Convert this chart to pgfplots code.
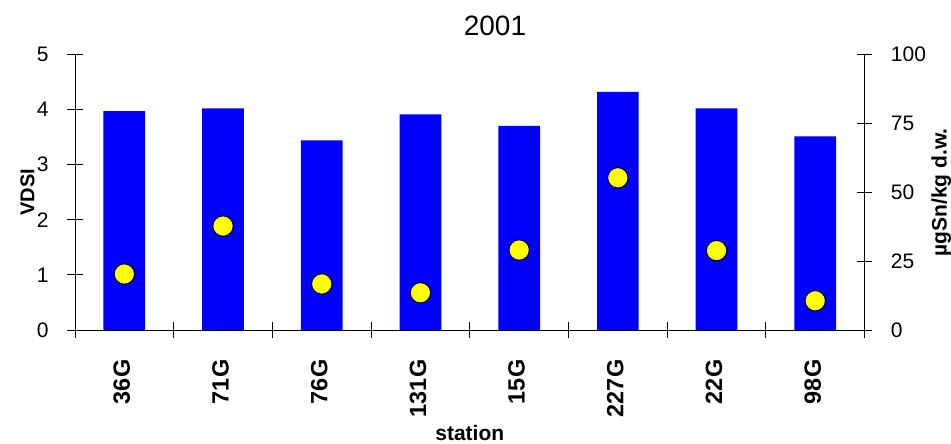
\documentclass[border=0pt]{standalone}
\usepackage{fontspec}
\setmainfont{Liberation Sans}
\usepackage{pgfplots}
\pgfplotsset{compat=1.18}
\definecolor{barblue}{RGB}{0,0,255}
\definecolor{ptyellow}{RGB}{255,255,0}
\definecolor{ptedge}{RGB}{0,0,90}
\begin{document}
\begin{tikzpicture}
\useasboundingbox (-75bp,-114bp) rectangle (876bp,330bp);
\begin{axis}[
  at={(0,0)}, anchor=south west,
  scale only axis, width=789.6bp, height=275.7bp,
  xmin=0.5, xmax=8.5, ymin=0, ymax=5,
  axis x line=bottom, axis y line=left,
  axis line style={-, line width=1bp, black},
  ytick={0,1,2,3,4,5},
  xtick={0.5,1.5,2.5,3.5,4.5,5.5,6.5,7.5,8.5},
  x tick label as interval,
  xticklabels={36G,71G,76G,131G,15G,227G,22G,98G},
  tick align=center, major tick length=15.5bp,
  tick style={line width=1bp, black},
  /pgf/number format/assume math mode=true,
  yticklabel style={font=\fontsize{21bp}{24bp}\selectfont, anchor=east, inner sep=0pt, xshift=-18.5bp},
  xticklabel style={font=\bfseries\fontsize{23.5bp}{26bp}\selectfont, rotate=90, anchor=east, inner sep=0pt, xshift=-21.7bp, yshift=2.5bp},
]
\addplot[ybar, bar width=41.7bp, fill=barblue, draw=none] coordinates {
(1,3.97) (2,4.02) (3,3.44) (4,3.91) (5,3.70) (6,4.32) (7,4.02) (8,3.51)
};
\end{axis}
\begin{axis}[
  at={(0,0)}, anchor=south west,
  scale only axis, width=789.6bp, height=275.7bp,
  xmin=0.5, xmax=8.5, ymin=0, ymax=100,
  axis x line=none, axis y line=right,
  axis line style={-, line width=1bp, black},
  ytick={0,25,50,75,100},
  tick align=center, major tick length=15.5bp,
  tick style={line width=1bp, black},
  /pgf/number format/assume math mode=true,
  yticklabel style={font=\fontsize{21bp}{24bp}\selectfont, anchor=west, inner sep=0pt, xshift=18.4bp},
]
\addplot[only marks, mark=*, mark size=10.3bp, mark options={fill=ptyellow, draw=ptedge, line width=1.2bp}] coordinates {
(1,20.3) (2,37.7) (3,16.7) (4,13.5) (5,29.0) (6,55.2) (7,28.8) (8,10.6)
};
\end{axis}
\node[font=\fontsize{28bp}{32bp}\selectfont] at (420bp,304bp) {2001};
\node[rotate=90, font=\bfseries\fontsize{20bp}{24bp}\selectfont] at (-47.5bp,137.8bp) {VDSI};
\node[rotate=90, font=\bfseries\fontsize{21bp}{24bp}\selectfont] at (866.3bp,137.5bp) {µgSn/kg d.w.};
\node[anchor=base, font=\bfseries\fontsize{21bp}{24bp}\selectfont] at (394.8bp,-110bp) {station};
\end{tikzpicture}
\end{document}
